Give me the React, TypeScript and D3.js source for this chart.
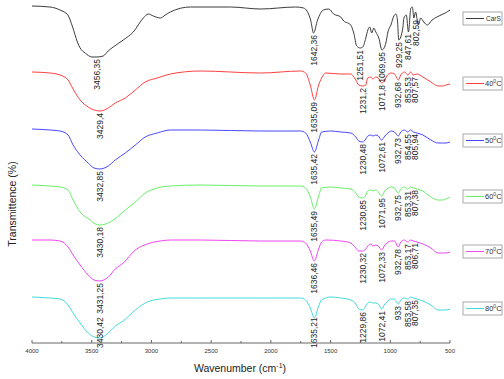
import React from "react";
import * as d3 from "d3";

const W = 504;
const H = 379;

// FTIR spectra: [wavenumber (cm-1), transmittance (%)] for each sample
const carS: [number, number][] = [
  [4000, 101], [3850, 100], [3765, 97], [3700, 92], [3660, 80], [3620, 65], [3597, 59],
  [3555, 54], [3497, 50], [3456.35, 50], [3404, 51], [3362, 56], [3320, 60], [3236, 67],
  [3152, 75], [3068, 89], [3027, 93], [2984, 91], [2926, 89], [2884, 92], [2842, 95],
  [2674, 100], [2338, 100], [2086, 98], [1793, 100], [1726, 99], [1667, 87], [1642.36, 74],
  [1609, 87], [1560, 97], [1516, 98], [1474, 93], [1415, 90], [1390, 86], [1356, 84],
  [1331, 82], [1306, 74], [1281, 61], [1251.51, 59], [1230, 60], [1205, 69], [1188, 77],
  [1172, 80], [1155, 74], [1138, 79], [1121, 75], [1096, 69], [1069.95, 57], [1037, 64],
  [1020, 75], [995, 82], [970, 91], [953, 93], [940, 87], [929.25, 67], [895, 79],
  [886, 89], [866, 92], [847.61, 75], [828, 99], [815, 100], [802.59, 89], [788, 95],
  [765, 82], [745, 89], [720, 85], [690, 82], [650, 87], [610, 90], [575, 92], [540, 94],
  [500, 97],
];

const t40: [number, number][] = [
  [4000, 100], [3850, 99], [3765, 97], [3698, 92], [3656, 83], [3597, 72], [3530, 65],
  [3480, 62], [3429.4, 61], [3362, 64], [3303, 69], [3219, 74], [3135, 82], [3052, 90],
  [2951, 94], [2842, 98], [2590, 101], [2086, 99], [1751, 101], [1709, 99], [1670, 87],
  [1635.09, 72], [1600, 87], [1575, 94], [1541, 99], [1415, 98], [1331, 98], [1289, 92],
  [1264, 87], [1231.2, 86], [1205, 87], [1190, 94], [1163, 95], [1146, 93], [1121, 95],
  [1100, 94], [1071.8, 89], [1045, 92], [1029, 96], [995, 99], [965, 98], [932.68, 92],
  [912, 97], [880, 100], [853.53, 97], [830, 100], [807.57, 97], [777, 98], [727, 95],
  [660, 90], [600, 86], [560, 86], [534, 87], [500, 88],
];

const t50: [number, number][] = [
  [4000, 100], [3850, 99], [3765, 98], [3698, 94], [3656, 84], [3597, 74], [3530, 66],
  [3480, 61], [3432.85, 60], [3362, 63], [3303, 69], [3219, 76], [3135, 84], [3052, 92],
  [2951, 96], [2842, 99], [2590, 99], [2086, 98], [1751, 98], [1709, 96], [1670, 87],
  [1635.42, 77], [1600, 89], [1575, 97], [1500, 98], [1415, 97], [1331, 96], [1289, 92],
  [1264, 88], [1230.48, 87], [1205, 90], [1188, 93], [1163, 94], [1146, 93], [1121, 94],
  [1100, 93], [1072.61, 89], [1045, 93], [1029, 95], [990, 98], [965, 97], [932.73, 93],
  [912, 97], [880, 99], [854.55, 97], [830, 99], [805.94, 97], [777, 96], [727, 94],
  [660, 89], [600, 86], [560, 86], [534, 86], [500, 87],
];

const t60: [number, number][] = [
  [4000, 100], [3850, 99], [3765, 98], [3698, 95], [3656, 85], [3597, 73], [3513, 65],
  [3470, 61], [3430.18, 60], [3345, 63], [3286, 68], [3219, 75], [3135, 83], [3052, 92],
  [2951, 97], [2842, 99], [2590, 100], [2086, 99], [1751, 99], [1709, 97], [1670, 88],
  [1635.49, 76], [1600, 89], [1575, 97], [1500, 98], [1415, 97], [1331, 96], [1289, 92],
  [1264, 88], [1230.85, 87], [1205, 90], [1188, 94], [1163, 95], [1146, 94], [1121, 95],
  [1100, 93], [1071.95, 89], [1045, 94], [1029, 96], [990, 98], [965, 97], [932.75, 92],
  [912, 96], [880, 98], [853.31, 96], [830, 98], [807.38, 97], [777, 96], [727, 94],
  [660, 88], [600, 85], [560, 85], [534, 86], [500, 88],
];

const t70: [number, number][] = [
  [4000, 100], [3850, 100], [3765, 99], [3698, 93], [3656, 85], [3597, 75], [3530, 65],
  [3480, 60], [3431.25, 59], [3362, 63], [3303, 71], [3236, 77], [3135, 90], [3035, 96],
  [2926, 99], [2842, 100], [2590, 100], [2086, 99], [1751, 99], [1709, 97], [1670, 89],
  [1636.46, 79], [1600, 91], [1575, 98], [1541, 100], [1415, 99], [1331, 97], [1289, 92],
  [1264, 89], [1230.32, 89], [1205, 91], [1188, 94], [1163, 96], [1146, 94], [1121, 95],
  [1100, 94], [1072.33, 90], [1045, 95], [1029, 97], [990, 99], [965, 99], [932.78, 93],
  [912, 98], [880, 100], [853.17, 98], [830, 100], [806.71, 99], [777, 98], [727, 96],
  [660, 92], [600, 87], [560, 87], [534, 87], [500, 88],
];

const t80: [number, number][] = [
  [4000, 100], [3850, 99], [3765, 98], [3698, 92], [3656, 84], [3597, 74], [3530, 64],
  [3480, 60], [3430.42, 59], [3362, 64], [3303, 71], [3236, 76], [3135, 87], [3035, 95],
  [2926, 98], [2842, 99], [2590, 99], [2086, 99], [1751, 99], [1709, 97], [1670, 89],
  [1635.21, 79], [1600, 91], [1575, 97], [1499, 100], [1415, 99], [1331, 97], [1289, 93],
  [1264, 88], [1229.86, 87], [1205, 91], [1188, 94], [1163, 95], [1146, 94], [1121, 94],
  [1100, 93], [1072.41, 88], [1045, 93], [1029, 95], [990, 98], [965, 98], [933, 93],
  [912, 97], [880, 99], [853.58, 98], [830, 100], [807.35, 99], [777, 98], [727, 96],
  [660, 92], [600, 87], [560, 87], [534, 87], [500, 88],
];

// Labelled absorption bands for each spectrum
const peaksCarS = [3456.35, 1642.36, 1251.51, 1069.95, 929.25, 847.61, 802.59];
const peaks40 = [3429.4, 1635.09, 1231.2, 1071.8, 932.68, 853.53, 807.57];
const peaks50 = [3432.85, 1635.42, 1230.48, 1072.61, 932.73, 854.55, 805.94];
const peaks60 = [3430.18, 1635.49, 1230.85, 1071.95, 932.75, 853.31, 807.38];
const peaks70 = [3431.25, 1636.46, 1230.32, 1072.33, 932.78, 853.17, 806.71];
const peaks80 = [3430.42, 1635.21, 1229.86, 1072.41, 933, 853.58, 807.35];

const seriesNames = ["CarS", "40", "50", "60", "70", "80"];
const seriesData = [carS, t40, t50, t60, t70, t80];
const seriesPeaks = [peaksCarS, peaks40, peaks50, peaks60, peaks70, peaks80];
const seriesOffsets = [243, 178, 121, 65, 10, -47];
const seriesColors = ["#3c3c3c", "#ff4040", "#4848ff", "#66f066", "#f044f0", "#44dada"];

const xTicks = [4000, 3500, 3000, 2500, 2000, 1500, 1000, 500];
const xMinorTicks = [3750, 3250, 2750, 2250, 1750, 1250, 750];

const FONT = "Arial, 'Liberation Sans', Helvetica, sans-serif";
const LABEL_SIZE = 8.5;

function labelLength(s: string) {
  let len = 0;
  for (const ch of s) len += ch === "," ? 0.278 * LABEL_SIZE : 0.556 * LABEL_SIZE;
  return len;
}

export default function App() {
  const plotLeft = 32;
  const plotRight = 450;
  const axisY = 343;

  const x = d3.scaleLinear().domain([4000, 500]).range([plotLeft, plotRight]);
  const y = d3.scaleLinear().domain([0, 350]).range([350, 0]);

  const line = d3
    .line<[number, number]>()
    .x((d) => x(d[0]))
    .y((d) => d[1])
    .curve(d3.curveMonotoneX);

  return (
    <svg width={W} height={H} style={{ display: "block", position: "absolute", left: 0, top: 0 }}>
      <rect x={0} y={0} width={W} height={H} fill="#ffffff" />

      {seriesData.map((data, i) => {
        const off = seriesOffsets[i];
        const pts = data.map((d) => [d[0], y(d[1] + off)] as [number, number]);
        return (
          <path
            key={seriesNames[i]}
            d={line(pts) || ""}
            fill="none"
            stroke={seriesColors[i]}
            strokeWidth={1}
            strokeLinejoin="round"
          />
        );
      })}

      {seriesPeaks.map((peaks, i) => {
        const off = seriesOffsets[i];
        const data = seriesData[i];
        const items = peaks
          .map((p) => {
            const pt = data.find((d) => d[0] === p);
            const tv = pt ? pt[1] : 100;
            const text = String(p).replace(".", ",");
            const len = labelLength(text);
            const top = Math.min(y(tv + off) + 2, axisY + 5 - len);
            return { p, text, px: x(p), top };
          })
          .sort((a, b) => a.px - b.px);
        for (let k = 1; k < items.length; k++) {
          if (items[k].px - items[k - 1].px < 7.5) items[k].px = items[k - 1].px + 7.5;
        }
        return (
          <g key={"lab" + i}>
            {items.map((it) => (
              <text
                key={it.p}
                transform={`translate(${it.px},${it.top}) rotate(-90)`}
                textAnchor="end"
                dy="0.35em"
                fontFamily={FONT}
                fontSize={LABEL_SIZE}
                fill="#222"
              >
                {it.text}
              </text>
            ))}
          </g>
        );
      })}

      {/* x axis */}
      <line x1={plotLeft} x2={plotRight} y1={axisY} y2={axisY} stroke="#666" strokeWidth={1} />
      {xTicks.map((t) => (
        <g key={t}>
          <line x1={x(t)} x2={x(t)} y1={axisY} y2={axisY - 3} stroke="#666" strokeWidth={1} />
          <text x={x(t)} y={axisY + 10} textAnchor="middle" fontFamily={FONT} fontSize={6} fill="#333">
            {t}
          </text>
        </g>
      ))}
      {xMinorTicks.map((t) => (
        <line key={t} x1={x(t)} x2={x(t)} y1={axisY} y2={axisY - 2} stroke="#666" strokeWidth={1} />
      ))}
      <text x={240} y={372} textAnchor="middle" fontFamily={FONT} fontSize={10.5} fill="#222">
        Wavenumber (cm
        <tspan dy={-4} fontSize={7}>-1</tspan>
        <tspan dy={4}>)</tspan>
      </text>
      <text
        transform="translate(16,204) rotate(-90)"
        textAnchor="middle"
        fontFamily={FONT}
        fontSize={10.5}
        fill="#222"
      >
        Transmittence (%)
      </text>

      {/* legend */}
      {seriesNames.map((name, i) => {
        const top = y(100 + seriesOffsets[i]) + 5;
        const bx = 463;
        const cy = top + 6.5;
        return (
          <g key={"leg" + name}>
            <rect x={bx} y={top} width={39} height={13} fill="#fff" stroke="#aaa" strokeWidth={1} />
            <line x1={bx + 3} x2={bx + 21} y1={cy} y2={cy} stroke={seriesColors[i]} strokeWidth={1} />
            {i === 0 ? (
              <text x={bx + 23} y={cy + 2.2} fontFamily={FONT} fontSize={6.5} fill="#333">
                {name}
              </text>
            ) : (
              <text x={bx + 22} y={cy + 2.6} fontFamily={FONT} fontSize={7.5} fill="#333">
                {name}
                <tspan dy={-3} fontSize={5}>0</tspan>
                <tspan dy={3}>C</tspan>
              </text>
            )}
          </g>
        );
      })}
    </svg>
  );
}
